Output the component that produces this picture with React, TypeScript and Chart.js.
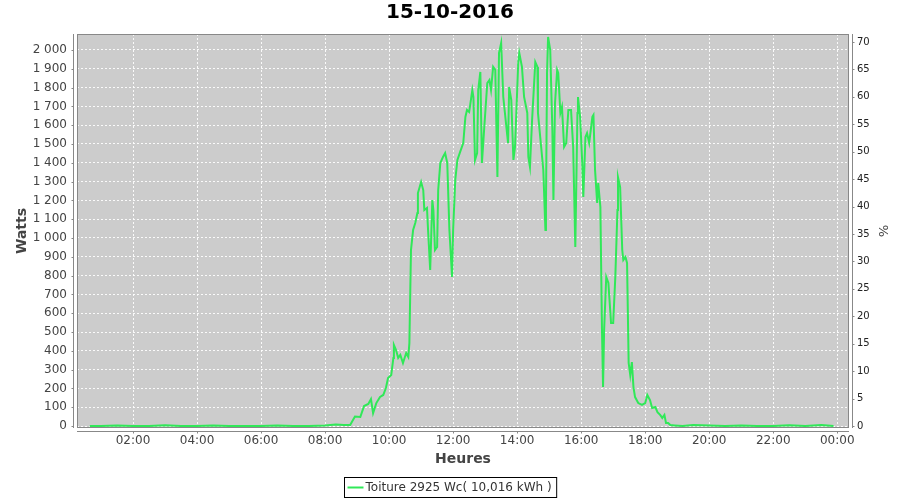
import React, { useEffect, useRef } from "react";
import { Chart, registerables } from "chart.js";

Chart.register(...registerables);

const TITLE = "15-10-2016";
const SERIES_LABEL = "Toiture 2925 Wc( 10,016 kWh )";
const X_TITLE = "Heures";
const Y_TITLE = "Watts";
const Y1_TITLE = "%";

// minutes since midnight
const MINUTES = [
  39, 60, 90, 120, 150, 180, 210, 240, 270, 300,
  330, 360, 390, 420, 450, 480, 500, 515, 527, 536,
  546, 553, 561, 566, 570, 576, 583, 589, 594, 598,
  604, 608, 609, 613, 617, 621, 626, 632, 636, 638,
  641, 645, 649, 653, 654, 660, 664, 666, 671, 673,
  677, 681, 683, 686, 690, 692, 696, 701, 705, 709,
  713, 718, 720, 724, 728, 733, 739, 743, 746, 750,
  756, 758, 761, 765, 767, 771, 774, 778, 784, 788,
  791, 795, 799, 803, 806, 810, 814, 819, 823, 825,
  829, 833, 836, 842, 844, 849, 853, 859, 861, 864,
  868, 874, 878, 879, 885, 889, 893, 894, 896, 898,
  902, 906, 908, 911, 915, 917, 921, 924, 928, 932,
  936, 941, 945, 949, 953, 954, 958, 962, 964, 968,
  971, 975, 981, 983, 986, 990, 992, 996, 999, 1001,
  1003, 1007, 1011, 1016, 1020, 1024, 1028, 1029, 1033, 1037,
  1039, 1043, 1046, 1049, 1052, 1055, 1058, 1061, 1067, 1074,
  1080, 1084, 1089, 1093, 1099, 1103, 1108, 1112, 1116, 1119,
  1123, 1127, 1135, 1150, 1170, 1200, 1230, 1260, 1290, 1320,
  1350, 1380, 1410, 1433,
];

const WATTS = [
  0, 0, 3, 0, 0, 4, 0, 0, 3, 0,
  0, 0, 3, 0, 0, 3, 8, 6, 5, 50,
  48, 106, 117, 143, 69, 122, 155, 165, 202, 255,
  271, 362, 431, 404, 362, 378, 335, 388, 367, 441,
  936, 1043, 1080, 1133, 1239, 1298, 1255, 1149, 1160, 1043,
  830, 1202, 1149, 936, 952, 1255, 1399, 1431, 1452, 1399,
  1043, 793, 1043, 1309, 1415, 1457, 1505, 1644, 1681, 1670,
  1787, 1750, 1415, 1452, 1787, 1883, 1399, 1574, 1824, 1840,
  1787, 1910, 1894, 1324, 1984, 2037, 1750, 1612, 1505, 1803,
  1734, 1415, 1484, 1931, 1984, 1910, 1750, 1665, 1431, 1378,
  1628, 1936, 1910, 1665, 1484, 1362, 1043, 1165, 1878, 2069,
  2000, 1574, 1202, 1718, 1894, 1878, 1665, 1697, 1484, 1505,
  1681, 1681, 1484, 952, 1665, 1750, 1644, 1399, 1218, 1537,
  1558, 1505, 1644, 1654, 1362, 1186, 1292, 1165, 511, 207,
  511, 793, 761, 548, 548, 793, 1149, 1324, 1271, 936,
  883, 899, 867, 335, 271, 340, 207, 154, 122, 112,
  122, 165, 138, 96, 101, 74, 59, 43, 59, 16,
  16, 5, 3, 0, 5, 3, 0, 3, 0, 0,
  4, 0, 5, 0,
];

const X_TICKS = [120, 240, 360, 480, 600, 720, 840, 960, 1080, 1200, 1320, 1440];
const WATT_TICKS = [
  0, 100, 200, 300, 400, 500, 600, 700, 800, 900, 1000,
  1100, 1200, 1300, 1400, 1500, 1600, 1700, 1800, 1900, 2000,
];
const PCT_TICKS = [0, 5, 10, 15, 20, 25, 30, 35, 40, 45, 50, 55, 60, 65, 70];

const X_MIN = 15;
const X_MAX = 1462;
const W_MIN = -10.6;
const W_MAX = 2085;
const P_MIN = -0.36;
const P_MAX = 71.46;

const LINE_COLOR = "#30e858";
const FONT = '"DejaVu Sans", "Liberation Sans", sans-serif';
const TEXT_COLOR = "#444444";
const GRID_COLOR = "rgba(255,255,255,0.9)";
const AXIS_COLOR = "#888888";

const fmtTime = (v: number) => {
  const h = Math.floor(v / 60) % 24;
  const m = Math.round(v % 60);
  return `${String(h).padStart(2, "0")}:${String(m).padStart(2, "0")}`;
};
const fmtWatts = (v: number) =>
  v >= 1000 ? `${Math.floor(v / 1000)}\u00a0${String(v % 1000).padStart(3, "0")}` : String(v);

const decorPlugin = {
  id: "decor",
  beforeDraw(chart: any) {
    const { ctx, chartArea: a, width, height } = chart;
    ctx.save();
    ctx.fillStyle = "#ffffff";
    ctx.fillRect(0, 0, width, height);
    ctx.fillStyle = "#cccccc";
    ctx.fillRect(a.left, a.top, a.right - a.left, a.bottom - a.top);
    ctx.restore();
  },
  afterDraw(chart: any) {
    const { ctx, chartArea: a, width } = chart;
    const xs = chart.scales.x;
    const ys = chart.scales.y;
    const y1s = chart.scales.y1;
    ctx.save();
    ctx.strokeStyle = AXIS_COLOR;
    ctx.lineWidth = 1;
    ctx.strokeRect(a.left + 0.5, a.top + 0.5, a.right - a.left - 1, a.bottom - a.top - 1);

    const off = 4;
    const tk = 2;
    ctx.beginPath();
    // left axis
    const lx = a.left - off + 0.5;
    ctx.moveTo(lx, a.top);
    ctx.lineTo(lx, a.bottom);
    ys.ticks.forEach((t: any) => {
      const py = Math.round(ys.getPixelForValue(t.value)) + 0.5;
      ctx.moveTo(lx - tk, py);
      ctx.lineTo(lx, py);
    });
    // right axis
    const rx = a.right + off - 0.5;
    ctx.moveTo(rx, a.top);
    ctx.lineTo(rx, a.bottom);
    y1s.ticks.forEach((t: any) => {
      const py = Math.round(y1s.getPixelForValue(t.value)) + 0.5;
      ctx.moveTo(rx, py);
      ctx.lineTo(rx + tk, py);
    });
    // bottom axis
    const by = a.bottom + off - 0.5;
    ctx.moveTo(a.left, by);
    ctx.lineTo(a.right, by);
    xs.ticks.forEach((t: any) => {
      const px = Math.round(xs.getPixelForValue(t.value)) + 0.5;
      ctx.moveTo(px, by);
      ctx.lineTo(px, by + tk);
    });
    ctx.stroke();

    // title
    ctx.fillStyle = "#000000";
    ctx.font = `bold 20px ${FONT}`;
    ctx.textAlign = "center";
    ctx.textBaseline = "middle";
    ctx.fillText(TITLE, width / 2, 13);

    // legend
    ctx.font = `12px ${FONT}`;
    const tw = ctx.measureText(SERIES_LABEL).width;
    const sample = 16;
    const boxW = 3 + sample + 2 + tw + 5;
    const boxH = 20;
    const bx = Math.round(width / 2 - boxW / 2) + 0.5;
    const bTop = 477.5;
    ctx.fillStyle = "#ffffff";
    ctx.fillRect(bx, bTop, boxW, boxH);
    ctx.strokeStyle = "#000000";
    ctx.lineWidth = 1;
    ctx.strokeRect(bx, bTop, boxW, boxH);
    const cy = bTop + boxH / 2;
    ctx.strokeStyle = LINE_COLOR;
    ctx.lineWidth = 2;
    ctx.beginPath();
    ctx.moveTo(bx + 3, cy);
    ctx.lineTo(bx + 3 + sample, cy);
    ctx.stroke();
    ctx.fillStyle = "#333333";
    ctx.textAlign = "left";
    ctx.textBaseline = "middle";
    ctx.fillText(SERIES_LABEL, bx + 3 + sample + 2, cy + 0.5);
    ctx.restore();
  },
};

export default function App() {
  const ref = useRef<HTMLCanvasElement>(null);

  useEffect(() => {
    document.body.style.margin = "0";
    const canvas = ref.current;
    if (!canvas) return;
    const points = MINUTES.map((m, i) => ({ x: m, y: WATTS[i] }));
    const chart = new Chart(canvas, {
      type: "line",
      data: {
        datasets: [
          {
            label: SERIES_LABEL,
            data: points,
            borderColor: LINE_COLOR,
            backgroundColor: LINE_COLOR,
            borderWidth: 2,
            pointRadius: 0,
            tension: 0,
            fill: false,
            xAxisID: "x",
            yAxisID: "y",
          },
        ],
      },
      options: {
        animation: false,
        responsive: false,
        maintainAspectRatio: false,
        devicePixelRatio: 1,
        layout: { padding: { top: 34, bottom: 30, left: 0, right: 0 } },
        plugins: {
          legend: { display: false },
          title: { display: false },
          tooltip: { enabled: false },
        },
        scales: {
          x: {
            type: "linear",
            position: "bottom",
            min: X_MIN,
            max: X_MAX,
            afterBuildTicks: (s: any) => {
              s.ticks = X_TICKS.map((value) => ({ value }));
            },
            afterFit: (s: any) => {
              s.height = 42;
            },
            grid: { color: GRID_COLOR, lineWidth: 1, drawTicks: false },
            border: { display: false, dash: [2, 2] },
            ticks: {
              autoSkip: false,
              maxRotation: 0,
              padding: 6,
              color: TEXT_COLOR,
              font: { family: FONT, size: 12 },
              callback: (v: any) => fmtTime(Number(v)),
            },
            title: {
              display: true,
              text: X_TITLE,
              color: TEXT_COLOR,
              font: { family: FONT, size: 14, weight: "bold" },
              padding: { top: 0, bottom: 2 },
            },
          },
          y: {
            type: "linear",
            position: "left",
            min: W_MIN,
            max: W_MAX,
            afterBuildTicks: (s: any) => {
              s.ticks = WATT_TICKS.map((value) => ({ value }));
            },
            afterFit: (s: any) => {
              s.width = 77;
            },
            grid: { color: GRID_COLOR, lineWidth: 1, drawTicks: false },
            border: { display: false, dash: [2, 2] },
            ticks: {
              autoSkip: false,
              padding: 10,
              color: TEXT_COLOR,
              font: { family: FONT, size: 12 },
              callback: (v: any) => fmtWatts(Number(v)),
            },
            title: {
              display: true,
              text: Y_TITLE,
              color: TEXT_COLOR,
              font: { family: FONT, size: 14, weight: "bold" },
              padding: { top: 14, bottom: 0 },
            },
          },
          y1: {
            type: "linear",
            position: "right",
            display: true,
            min: P_MIN,
            max: P_MAX,
            afterBuildTicks: (s: any) => {
              s.ticks = PCT_TICKS.map((value) => ({ value }));
            },
            afterFit: (s: any) => {
              s.width = 51;
            },
            grid: { display: false, drawTicks: false },
            border: { display: false },
            ticks: {
              autoSkip: false,
              padding: 8,
              color: "#222222",
              font: { family: FONT, size: 10 },
              callback: (v: any) => String(v),
            },
            title: {
              display: true,
              text: Y1_TITLE,
              color: TEXT_COLOR,
              font: { family: FONT, size: 13 },
              padding: { top: 10, bottom: 0 },
            },
          },
        },
      },
      plugins: [decorPlugin],
    } as any);
    return () => chart.destroy();
  }, []);

  return (
    <div style={{ width: 900, height: 500 }}>
      <canvas ref={ref} width={900} height={500} style={{ display: "block" }} />
    </div>
  );
}
